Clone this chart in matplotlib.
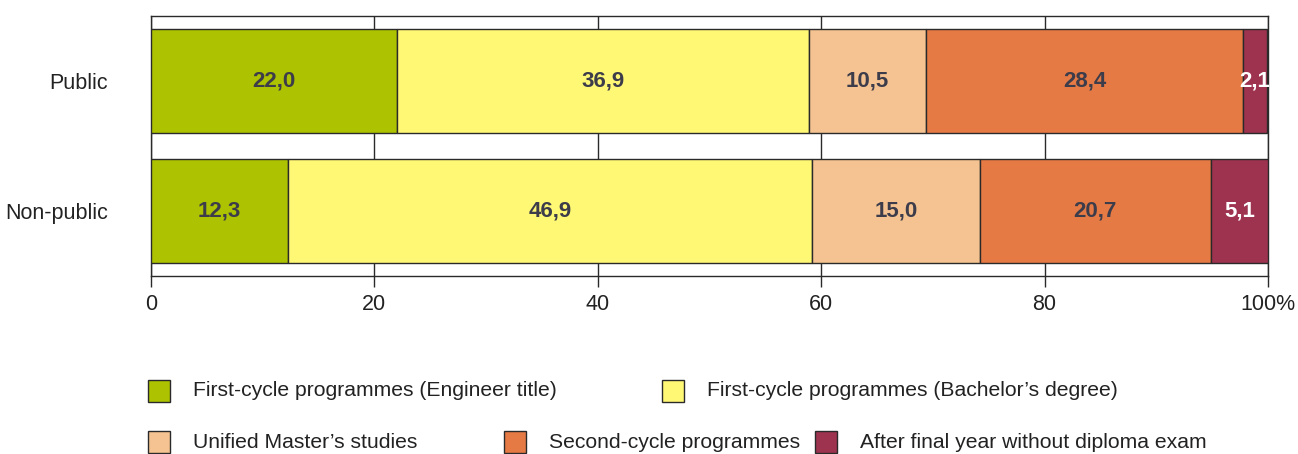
import matplotlib.pyplot as plt
from matplotlib.patches import Rectangle

plt.rcParams['font.family'] = ['Liberation Sans', 'DejaVu Sans']

# Data
groups = ["Public", "Non-public"]
series = [
    "First-cycle programmes (Engineer title)",
    "First-cycle programmes (Bachelor\u2019s degree)",
    "Unified Master\u2019s studies",
    "Second-cycle programmes",
    "After final year without diploma exam",
]
values = [
    [22.0, 12.3],
    [36.9, 46.9],
    [10.5, 15.0],
    [28.4, 20.7],
    [2.1, 5.1],
]
colors = ["#adc200", "#fff875", "#f5c392", "#e67a45", "#9e3350"]
label_colors = ["#3c3c4a", "#3c3c4a", "#3c3c4a", "#3c3c4a", "white"]
xticks = [0, 20, 40, 60, 80, 100]
xtick_labels = ["0", "20", "40", "60", "80", "100%"]

fig = plt.figure(figsize=(12.98, 4.54), dpi=100)
ax = fig.add_axes([151 / 1298, 178 / 454, 1117 / 1298, 260 / 454])

edge = "#2a2a2a"
ypos = list(range(len(groups)))
left = [0.0] * len(groups)
for vals, col, lc in zip(values, colors, label_colors):
    ax.barh(ypos, vals, left=left, height=0.8, color=col,
            edgecolor=edge, linewidth=1, zorder=3)
    for y, v, l in zip(ypos, vals, left):
        ax.text(l + v / 2, y, f"{v:.1f}".replace(".", ","), ha="center",
                va="center", fontsize=16, fontweight="bold", color=lc, zorder=4)
    left = [l + v for l, v in zip(left, vals)]

ax.set_xlim(0, 100)
ax.set_ylim(1.5, -0.5)
ax.set_yticks(ypos)
ax.set_yticklabels(groups, fontsize=15.5, color="#222222")
ax.tick_params(axis="y", length=0, pad=31)
ax.set_xticks(xticks)
ax.set_xticklabels(xtick_labels, fontsize=15.5, color="#222222")
ax.tick_params(axis="x", length=8, width=1, color=edge, pad=5, direction="out")
ax.grid(axis="x", color=edge, linewidth=1, zorder=0)
ax.set_axisbelow(True)
for s in ax.spines.values():
    s.set_color(edge)
    s.set_linewidth(1)

# Legend (manual layout)
legend_pos = [
    (148, 391), (662, 391),
    (148, 442), (504, 442), (815, 442),
]
W, H = 1298, 454
for (px, py), name, col in zip(legend_pos, series, colors):
    fig.patches.append(Rectangle((px / W, (H - py - 11) / H), 22 / W, 22 / H,
                                 transform=fig.transFigure, facecolor=col,
                                 edgecolor=edge, linewidth=1))
    fig.text((px + 45) / W, (H - py) / H, name, ha="left", va="center",
             fontsize=15.2, color="#222222")

fig.savefig("out.png", dpi=100)
